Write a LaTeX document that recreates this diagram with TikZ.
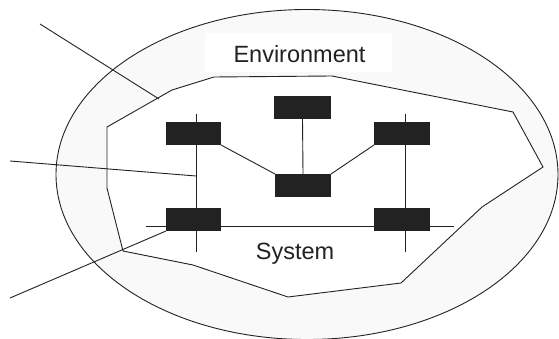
\documentclass[tikz,border=0pt]{standalone}
\usepackage{fontspec}
\setmainfont{Liberation Sans}
\definecolor{ink}{HTML}{222222}
\definecolor{envfill}{HTML}{F9F9F9}
\tikzset{
 comp/.style={draw=none, fill=ink, minimum width=55pt, minimum height=23pt, inner sep=0pt, outer sep=0pt},
 wire/.style={draw=ink, line width=0.9pt},
 lbl/.style={font=\fontsize{23.5}{28}\selectfont, text=ink, inner sep=0pt, anchor=base},
 labelbg/.style={fill=white, draw=none, inner sep=0pt, minimum width=187pt, minimum height=39pt}
}
\begin{document}
\begin{tikzpicture}[x=1pt,y=-1pt]
\useasboundingbox (0,0) rectangle (559,339);
% environment
\path[fill=envfill, draw=ink, line width=0.9pt] (307,174.5) ellipse [x radius=251pt, y radius=165pt];
% system boundary
\path[fill=white, draw=ink, line width=0.9pt] (107,127) -- (172,90) -- (214,77) -- (332,76) -- (513,112) -- (543,167) -- (482,207) -- (401,283) -- (288,297) -- (193,265) -- (123,251) -- (107,188) -- cycle;
% label background
\node[labelbg] (envbg) at (298.5,52.5) {};
\node[lbl] (envlabel) at (299.5,63) {Environment};
\node[lbl] (syslabel) at (295,259) {System};
% components
\node[comp] (tl) at (193.5,133.5) {};
\node[comp, minimum width=57pt] (tc) at (302.5,107.5) {};
\node[comp, minimum width=56pt] (tr) at (402,133.5) {};
\node[comp, minimum width=56pt] (mc) at (303,185.5) {};
\node[comp] (bl) at (193.5,219.5) {};
\node[comp, minimum width=56pt] (br) at (402,219.5) {};
% bus end points
\coordinate (vl1) at (196,114);
\coordinate (vl2) at (196,251.5);
\coordinate (vr1) at (405,114);
\coordinate (vr2) at (405,251.5);
\coordinate (h1) at (146,226);
\coordinate (h2) at (454,226);
\coordinate (vlmid) at (196,176);
% external end points
\coordinate (e1) at (40,24);
\coordinate (e1end) at (159,99);
\coordinate (e2) at (10,161);
\coordinate (e3) at (10,298);
% wires
\draw[wire] (vl1) -- (vl2);
\draw[wire] (vr1) -- (vr2);
\draw[wire] (h1) -- (h2);
\draw[wire] (tc.south) -- (mc.north);
\draw[wire] (tl.south east) -- (mc.north west);
\draw[wire] (tr.south west) -- (mc.north east);
\draw[wire] (e1) -- (e1end);
\draw[wire] (e2) -- (vlmid);
\draw[wire] (e3) -- (bl.south west);
\end{tikzpicture}
\end{document}
